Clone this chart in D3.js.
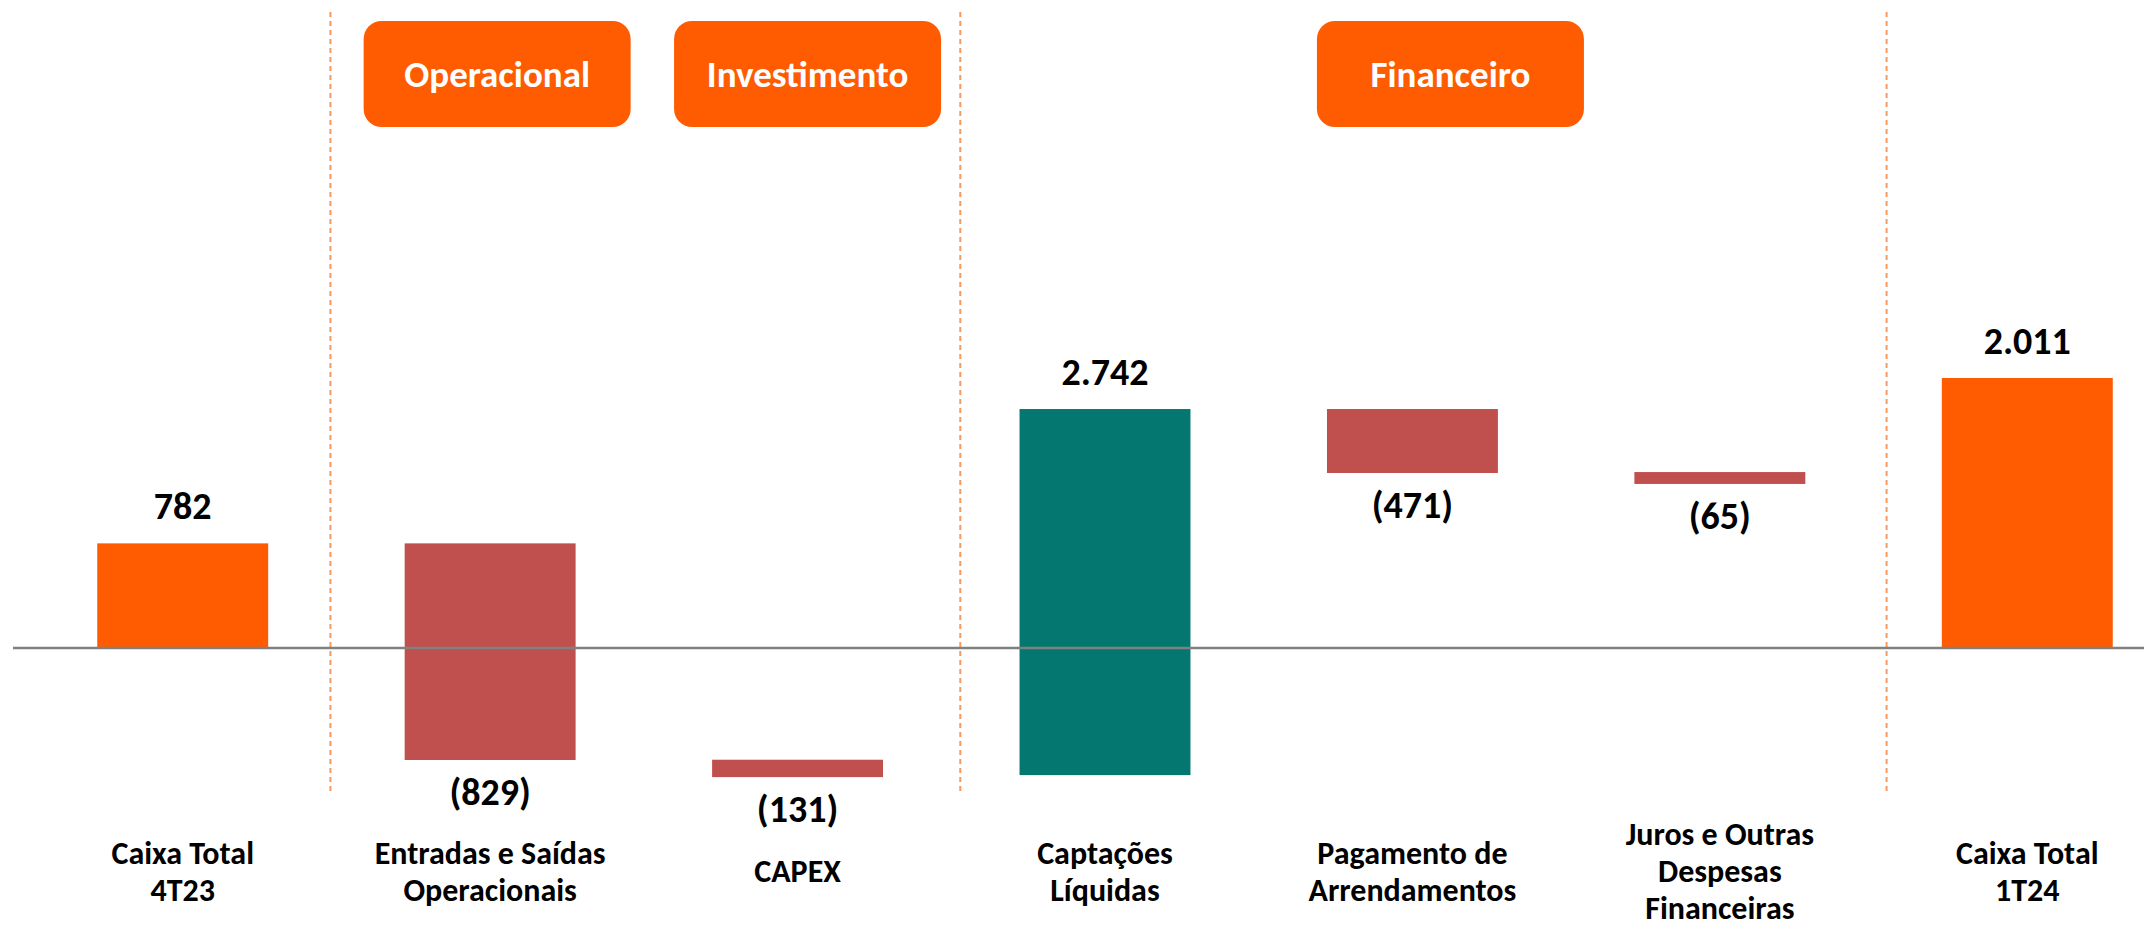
<!DOCTYPE html>
<html>
<head>
<meta charset="utf-8">
<script src="https://cdn.jsdelivr.net/npm/d3@7"></script>
<style>
  body { margin: 0; background: #fff; }
  text { font-family: Carlito, Calibri, "Liberation Sans Narrow", "Open Sans", sans-serif; font-weight: bold; }
</style>
</head>
<body>
<div id="chart"></div>
<script>
var svgWidth = 2144;
var svgHeight = 930;

// data
var categories = ["Caixa Total\n4T23", "Entradas e Saídas\nOperacionais", "CAPEX", "Captações\nLíquidas",
    "Pagamento de\nArrendamentos", "Juros e Outras\nDespesas\nFinanceiras", "Caixa Total\n1T24"];
var values = [782, -829, -131, 2742, -471, -65, 2011];
var kinds = ["total", "down", "down", "up", "down", "down", "total"];
// bar extents as drawn in the picture (same units as values)
var barFrom = [0, 782, -835, -950, 1786, 1315, 0];
var barTo = [782, -837, -965, 1786, 1308, 1226, 2018];
var groups = ["Operacional", "Investimento", "Financeiro"];
var dividersAfter = [0, 2, 5];

var colors = { total: "#FF5B00", down: "#C0504D", up: "#047870" };

var svg = d3.select("#chart").append("svg")
    .attr("width", svgWidth)
    .attr("height", svgHeight);

var x = d3.scaleBand()
    .domain(categories)
    .range([29, 2181])
    .paddingInner(0.444)
    .paddingOuter(0.222);

var y = d3.scaleLinear()
    .domain([-1000, 2500])
    .range([648 + 133.8, 648 - 334.5]);

var ptBR = d3.formatLocale({ decimal: ",", thousands: ".", grouping: [3], currency: ["R$", ""] });
var fmt = ptBR.format(",d");
function label(v) {
    return v < 0 ? "(" + fmt(-v) + ")" : fmt(v);
}

// dashed dividers between sections
var step = x.step();
var dividerShift = [-6, 9, 13];
svg.selectAll(".divider")
    .data(dividersAfter)
    .enter()
    .append("line")
    .attr("x1", (d, i) => x(categories[d]) + x.bandwidth() + (step - x.bandwidth()) / 2 + dividerShift[i])
    .attr("x2", (d, i) => x(categories[d]) + x.bandwidth() + (step - x.bandwidth()) / 2 + dividerShift[i])
    .attr("y1", 12)
    .attr("y2", 792)
    .attr("stroke", "#F79A62")
    .attr("stroke-width", 2)
    .attr("stroke-dasharray", "5,4");

// section header boxes
var headerCenter = [x(categories[1]) + x.bandwidth() / 2 + 7,
    x(categories[2]) + x.bandwidth() / 2 + 10,
    x(categories[4]) + x.bandwidth() / 2 + 38];
var headers = svg.selectAll(".header")
    .data(groups)
    .enter()
    .append("g")
    .attr("transform", (d, i) => `translate(${headerCenter[i]}, 0)`);

headers.append("rect")
    .attr("x", -133.5)
    .attr("y", 21)
    .attr("width", 267)
    .attr("height", 106)
    .attr("rx", 18)
    .attr("fill", colors.total);

headers.append("text")
    .attr("text-anchor", "middle")
    .attr("y", 87)
    .attr("fill", "#fff")
    .attr("font-size", "37px")
    .text(d => d);

// bars
svg.selectAll(".bar")
    .data(categories)
    .enter()
    .append("rect")
    .attr("x", d => x(d))
    .attr("width", x.bandwidth())
    .attr("y", (d, i) => y(Math.max(barFrom[i], barTo[i])))
    .attr("height", (d, i) => Math.abs(y(barFrom[i]) - y(barTo[i])))
    .attr("fill", (d, i) => colors[kinds[i]]);

// zero line
svg.append("line")
    .attr("x1", 13)
    .attr("x2", svgWidth)
    .attr("y1", y(0))
    .attr("y2", y(0))
    .attr("stroke", "#808080")
    .attr("stroke-width", 2.5);

// value labels
svg.selectAll(".value")
    .data(categories)
    .enter()
    .append("text")
    .attr("text-anchor", "middle")
    .attr("font-size", "38px")
    .attr("fill", "#000")
    .attr("x", d => x(d) + x.bandwidth() / 2)
    .attr("y", (d, i) => values[i] < 0
        ? y(Math.min(barFrom[i], barTo[i])) + 45
        : y(Math.max(barFrom[i], barTo[i])) - 24)
    .text((d, i) => label(values[i]));

// category labels
var catLabels = svg.selectAll(".cat")
    .data(categories)
    .enter()
    .append("text")
    .attr("text-anchor", "middle")
    .attr("font-size", "32px")
    .attr("fill", "#000");

catLabels.each(function(d) {
    var lines = d.split("\n");
    var cx = x(d) + x.bandwidth() / 2;
    d3.select(this).selectAll("tspan")
        .data(lines)
        .enter()
        .append("tspan")
        .attr("x", cx)
        .attr("y", (l, j) => 882 + (j - (lines.length - 1) / 2) * 37)
        .text(l => l);
});
</script>
</body>
</html>
